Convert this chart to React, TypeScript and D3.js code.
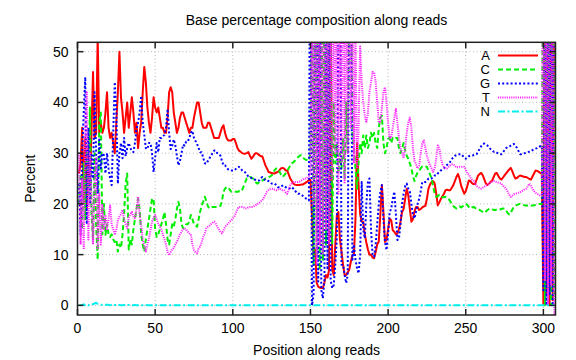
import React from "react";
import * as d3 from "d3";

const title = "Base percentage composition along reads";
const xLabel = "Position along reads";
const yLabel = "Percent";
const xTicks = [0, 50, 100, 150, 200, 250, 300];
const yTicks = [0, 10, 20, 30, 40, 50];
const bases = ["A", "C", "G", "T", "N"];

const valuesA = [
  26, 28, 35, 20, 33, 19, 31, 24, 34, 46,
  33, 34, 53, 34, 36, 34, 35, 38, 42, 35,
  33, 34, 32, 30, 36, 42, 50, 41, 38, 34,
  37, 40, 35, 38, 41, 38, 34, 36, 31, 34,
  36, 42, 47, 44, 39, 36, 34, 37, 41, 39,
  38, 39, 37, 35, 35, 34, 34, 37, 42, 43,
  42, 38, 36, 34, 35, 37, 38, 38, 37, 36,
  35, 34, 35, 35, 37, 38.5,
  40, 40, 38, 36, 35, 35, 35, 36, 36, 35,
  34, 33, 33, 33, 33, 34, 35, 35.5, 34, 33,
  32.5, 32.5, 32.5, 32.8, 32.8, 32, 31, 30.5, 30.3, 30,
  29.9, 29.9, 30, 30.2, 29.5, 28.9, 29.3, 29.8, 30, 29.9,
  29.6, 29.4, 29.4, 28.5, 27.6, 27, 26.3, 26.2, 26.1, 26,
  26, 26.2, 26.3, 26.6, 27, 27.1, 27, 26.6, 26.6, 25.8,
  25, 24.5, 24, 23.8, 23.7, 23.7, 23.7, 23.8, 23.8, 24,
  24.2, 24.4, 24.7, 24.7, 17.8, 10, 11, 4.5, 3.7, 3.5,
  3.4, 3.4, 4.5, 6, 5.5, 7, 65, 7, 6, 12,
  17.8, 18.4, 13, 10.6, 8, 6, 6, 6.5, 7, 8.6,
  9.9, 10, 17, 32, 23.7, 18, 16.5, 16.5, 14, 12.4,
  11, 10, 10, 9.4, 9.3, 10.5, 12, 12.6, 17.8, 23.7,
  18.4, 12.5, 12.9, 15, 17.1, 16.8, 14.8, 14.5, 14, 14.2,
  15, 16.5, 18.4, 19, 21, 23, 21.7, 19, 16.5, 17,
  18.5, 19.4, 19.4, 18.8, 19, 19.3, 19.5, 19.6, 21, 23, 23.8,
  24.3, 24.5, 24, 22, 19.7, 20.3, 21, 21.5, 22, 22.7,
  22.8, 22.7, 22.7, 23.2, 23.7, 24.5, 25.3, 25.9, 25, 23.6,
  22.8, 22, 22.5, 23.5, 24.6, 24.5, 24.1, 23.9, 23.9, 24.8,
  25.6, 25.9, 26.1, 25.6, 24.8, 24, 23.7, 24, 24.3, 24.6,
  25.3, 26, 26.1, 25.5, 25, 24.8, 25.2, 25.6, 26, 26.4,
  26.8, 27.1, 26.4, 25.6, 25, 25.1, 25.4, 25.6, 25.5, 25.4,
  25.3, 25.3, 25.1, 24.9, 24.8, 25.4, 26, 26.6, 26.5, 26.3, 26.1, 26,
  0, 90, 2, 80, 0, 95, 1, 70,
];

const valuesC = [
  20, 26, 15, 28, 17, 30, 22, 39, 18, 13,
  30, 16, 9, 36, 38, 14, 20, 13.9, 16, 14,
  13.5, 14, 13, 12.5, 13, 10.6, 12, 11.3, 14, 18,
  24, 26, 11, 13, 12, 15, 17, 19, 21, 19,
  14, 12, 10.6, 13, 15, 17, 19, 21, 21, 15,
  13.5, 14, 15, 16, 17, 18.4, 16, 13, 12, 14,
  16, 15.5, 17, 19, 20.4, 19, 16, 15.2, 15.5, 16,
  16, 16.5, 17.8, 17, 16, 15.8,
  15.5, 17, 18.5, 19.7, 20.5, 21.4, 20.5, 19.5, 19.1, 19.3,
  19.4, 19.4, 19.4, 19.4, 19.4, 19.6, 20.5, 22.4, 23, 23.3,
  23.3, 22.8, 22.4, 22.4, 22.4, 22.4, 22.4, 22.5, 22.4, 22.7,
  23.5, 24.3, 25, 25, 25.3, 25.2, 25, 24.5, 24.2, 24,
  24.3, 24.6, 24.6, 24.8, 25, 25, 25.2, 25.4, 25.6, 26,
  26.7, 27, 27, 26.4, 25.8, 25.3, 25.6, 26, 26.5, 27,
  27.6, 28, 28.2, 28.5, 28.8, 29.2, 29.5, 29.6, 29.2, 28.9,
  28.7, 28.6, 28.5, 30, 70, 8, 75, 10, 80, 7,
  85, 9, 70, 12, 65, 15, 55, 12, 40, 28,
  32, 26, 30, 27, 33, 25, 40, 30, 60, 70,
  34, 30.8, 27, 23, 28, 32, 30, 33.5, 31, 33.5,
  31, 32, 34, 33, 34, 32, 31, 35, 37, 37.4,
  32, 30, 31, 32.8, 33, 32, 33, 32.8, 33, 33,
  31, 30, 31, 32, 30.5, 29.5, 28.9, 28, 27, 25.5,
  24.5, 25.5, 26.2, 26.5, 27, 27.4, 27.5, 27.4, 27.3, 26.5, 25.8,
  25, 23.5, 22, 21.4, 21.5, 21.8, 21.6, 21.3, 21.3, 21.4,
  21.2, 21, 20.5, 20, 19.6, 19.3, 19.1, 19.3, 19.5, 19.3,
  19.5, 19.8, 20, 19.8, 19.4, 19.1, 19.3, 19.4, 19.2, 19,
  18.9, 18.8, 18.6, 18.4, 18.2, 18.5, 18.8, 19, 19.1, 19,
  18.8, 18.8, 18.9, 18.8, 18.9, 19, 19.1, 19.1, 18.7, 18.2,
  17.9, 18.3, 18.9, 19.4, 19.6, 19.8, 19.9, 20, 19.9, 19.8,
  19.7, 19.7, 19.7, 19.8, 19.7, 19.7, 19.7, 19.8, 19.9, 20, 20, 20,
  85, 0, 90, 3, 80, 0, 95, 2,
];

const valuesG = [
  24, 14, 30, 38, 45, 16, 35, 20, 30, 25,
  42, 30, 22, 33, 27, 30, 29.6, 26, 30, 27,
  25, 23.7, 34, 44, 38, 24, 30, 32, 29, 33,
  29.4, 31, 32, 31, 30.5, 30.2, 32, 34.8, 36, 38,
  41.3, 36, 33.6, 31, 30.8, 32, 32, 30, 26.3, 29,
  32, 30.2, 33, 33, 33.3, 33.6, 35, 38.7, 34, 30.8,
  31.5, 32.7, 31.5, 29.5, 27.6, 28.5, 30, 31.7, 31.5, 32.3,
  32.3, 33, 34, 34.4, 33, 32.4,
  31.8, 31, 30.2, 30.2, 29, 28, 27.9, 28.5, 29, 29.5,
  30, 30.5, 30.5, 30, 29.9, 29.5, 28.5, 27.6, 27.6, 27.2,
  26.8, 26.7, 26.6, 26.6, 26.6, 26.9, 27.2, 27.3, 27, 26.6,
  26.4, 26.2, 25.8, 25.4, 25.3, 25.1, 25, 24.8, 24.7, 24.6,
  24.6, 25, 25.3, 25, 24.6, 24.6, 24.5, 24.3, 24, 24,
  24, 23.7, 23.3, 23.3, 23.5, 23.6, 23.6, 23.3, 23.1, 23,
  23.1, 23.3, 23, 22.6, 22.3, 22, 22, 21.8, 21.6, 21.4,
  21.1, 20.9, 20.7, 90, 0, 2, 60, 80, 4.7, 70,
  3, 1.4, 5, 65, 7, 75, 5, 3.4, 4, 8,
  13.2, 60, 80, 8, 8, 6, 4.4, 6, 70, 80,
  9, 12, 9, 7.3, 6.3, 10, 24.3, 15, 13.2, 20,
  24.3, 25, 15, 10, 9.6, 12, 16, 20, 22.4, 23.7,
  17, 12.5, 10.9, 14, 18.4, 19, 21, 22.4, 18, 12.9,
  13.2, 16, 20, 22, 23.5, 24, 23, 22.4, 20, 17.8,
  17.1, 18.5, 20, 21, 22.5, 24.3, 24.3, 24.3, 24.5, 25, 25,
  25, 25.3, 25.6, 25.6, 26, 26.3, 26.6, 26.8, 27, 27.4,
  27.7, 27.9, 28.3, 28.8, 29.2, 29.5, 29.6, 29.7, 29.8, 29.8,
  29.5, 29.1, 28.9, 29.1, 29.4, 29.5, 29.5, 29.6, 29.7, 29.8,
  30.3, 30.9, 31.4, 31.8, 31.9, 31.7, 31.5, 31.1, 30.8, 30.5,
  30.3, 30.3, 30.1, 29.9, 29.8, 29.8, 30.2, 30.6, 31, 31.2,
  31.3, 31.5, 31.7, 31.8, 31.5, 31, 30.4, 29.8, 29.8, 29.9,
  30, 30.1, 30.2, 30.3, 30.4, 30.6, 30.8, 30.9, 31, 31.2, 31.4, 31.5,
  3, 85, 0, 90, 2, 75, 0, 88,
];

const valuesT = [
  30, 12, 25, 11, 35, 42, 13, 30, 20, 12,
  24, 29, 11, 22, 12, 20, 15, 17.8, 15, 17,
  19.7, 16, 15, 13.9, 15, 16.7, 17.5, 18, 18.8, 17,
  16, 15.2, 17.4, 18, 18.4, 17.5, 17, 19, 21.4, 18,
  15.8, 13, 11.6, 10.6, 12, 13.2, 14.8, 16.5, 17.2, 17.8,
  17, 16.1, 15.5, 15, 14, 13, 12, 10.5, 9.9, 10.5,
  11, 11.3, 12, 12.5, 13.2, 14, 14.5, 15, 15.2, 15,
  14.5, 14.2, 14, 12, 10.9, 10.5,
  10.3, 11.2, 11.6, 12.5, 13.5, 14.2, 15.2, 15.5, 15.7, 16,
  16.3, 16.5, 16.1, 15.5, 15, 14.5, 14.2, 14.8, 15.5, 15.8,
  16.1, 16.5, 16.8, 17.1, 17.5, 18.2, 19, 19.4, 19.4, 19.4,
  19.3, 19.1, 19.1, 19.3, 19.4, 19.4, 19.4, 19.6, 19.8, 20,
  20.2, 20.5, 20.7, 21.2, 21.8, 22.4, 22.7, 22.9, 23, 23,
  22.8, 22.7, 22.8, 23, 22.9, 22.7, 22.7, 22.3, 22, 22.8,
  23.7, 24, 24.3, 24.3, 24.3, 24.3, 24.4, 24.6, 24.8, 25,
  25, 25.2, 25.5, 26, 60, 20, 70, 8, 85, 12,
  90, 10, 75, 15, 80, 12, 60, 25, 70, 30,
  75, 22, 65, 28, 80, 24, 70, 30, 85, 35,
  70, 28, 55, 27, 35, 51, 44, 40, 37.4, 36,
  38, 42, 44, 46, 45.9, 44, 40, 36, 36, 39,
  42, 43, 40, 36, 33, 33, 35, 37, 38.7, 36,
  33, 31, 30, 29, 31, 34, 36, 37, 35, 31,
  28.5, 27.8, 27, 27.5, 30, 32, 32.5, 31, 29.5, 28.5, 27.6,
  27, 26.3, 27, 29, 31.5, 31, 29, 27.8, 27.2, 27,
  27, 27.3, 27.6, 27.8, 27.8, 27.5, 27.2, 27.2, 27.3, 27.3,
  27.3, 27.3, 26.8, 26, 25.8, 25.2, 24.8, 24.6, 24, 23.5,
  23.3, 23.1, 23, 23.2, 23.4, 23.6, 23.8, 24, 24.3, 24.4,
  24.5, 24.4, 24.3, 24.2, 24.1, 24, 23.6, 23.3, 23, 22.4,
  21.8, 21.4, 21.6, 21.9, 22, 22.1, 22.2, 22.3, 22.5, 22.7,
  22.9, 23, 23.5, 24, 23.6, 23, 22.5, 22.2, 22, 21.8, 21.6, 21.6,
  90, 5, 85, 0, 95, 4, 80, -3,
];

const valuesN = [
  0.1, 0, 0.1, 0.2, 0, 0.1, 0, 0.2, 0.3, 0.2,
  0.4, 0.5, 0.3, 0.2, 0.1, 0.1, 0.2, 0.1, 0.1, 0.1,
  0, 0.1, 0, 0.1, 0, 0, 0.1, 0, 0, 0.1,
  0, 0, 0.1, 0, 0, 0, 0.1, 0, 0, 0,
  0, 0, 0, 0.1, 0, 0, 0, 0, 0, 0,
  0, 0, 0, 0, 0, 0, 0, 0, 0, 0,
  0, 0, 0, 0, 0, 0, 0, 0, 0, 0,
  0, 0, 0, 0, 0, 0,
  0, 0, 0, 0, 0, 0, 0, 0, 0, 0,
  0, 0, 0, 0, 0, 0, 0, 0, 0, 0,
  0.1, 0.1, 0, 0, 0, 0, 0, 0, 0, 0,
  0, 0, 0, 0, 0, 0, 0, 0, 0, 0,
  0, 0, 0, 0, 0, 0, 0, 0, 0, 0,
  0, 0, 0, 0, 0, 0, 0, 0, 0, 0,
  0, 0, 0, 0, 0, 0, 0, 0, 0, 0,
  0, 0, 0, 0, 0.1, 0, 0, 0, 0, 0,
  0, 0, 0, 0, 0, 0, 0, 0, 0, 0,
  0, 0, 0, 0, 0, 0, 0, 0, 0, 0,
  0, 0, 0, 0, 0, 0, 0, 0, 0, 0,
  0, 0, 0, 0, 0, 0, 0, 0, 0, 0,
  0, 0, 0, 0, 0, 0, 0, 0, 0, 0,
  0, 0, 0, 0, 0, 0, 0, 0, 0, 0,
  0, 0, 0, 0, 0, 0, 0, 0, 0, 0, 0,
  0, 0, 0, 0, 0, 0, 0, 0, 0, 0,
  0, 0, 0, 0, 0, 0, 0, 0, 0, 0,
  0, 0, 0, 0, 0, 0, 0, 0, 0, 0,
  0, 0, 0, 0, 0, 0, 0, 0, 0, 0,
  0, 0, 0, 0, 0, 0, 0, 0, 0, 0,
  0, 0, 0, 0, 0, 0, 0, 0, 0, 0,
  0, 0, 0, 0, 0, 0, 0, 0, 0, 0, 0, 0,
  0, 0, 0, 0, 0, 0, 0, 0,
];

const seriesValues = [valuesA, valuesC, valuesG, valuesT, valuesN];
const colors = ["#ff0000", "#00ee00", "#0000ff", "#ff22ff", "#00eeee"];
const dashes = ["none", "5,3", "2,2.2", "1.1,1.1", "7,2.5,2,2.5"];
const widths = [2, 2, 2, 2, 2];

const FONT = "'Liberation Sans', Arial, Helvetica, sans-serif";

export default function App() {
  const left = 77.5, right = 555.5, top = 42.3, bottom = 315;
  const x = d3.scaleLinear().domain([0, 307.8]).range([left, right]);
  const y = d3.scaleLinear().domain([-1.9, 51.85]).range([bottom, top]);
  const tick = 6;

  const paths = seriesValues.map((vals) => {
    const line = d3
      .line<number>()
      .x((_, i) => x(i + 1))
      .y((v) => y(v));
    return line(vals) || "";
  });

  return (
    <svg
      width={576}
      height={360}
      style={{ position: "absolute", left: 0, top: 0, background: "#fff" }}
      fontFamily={FONT}
      fontSize={14}
    >
      <defs>
        <clipPath id="plotclip">
          <rect x={left} y={top} width={right - left} height={bottom - top} />
        </clipPath>
      </defs>
      <rect x={0} y={0} width={576} height={360} fill="#fff" />
      {/* grid */}
      <g stroke="#b8b8b8" strokeWidth={1} strokeDasharray="1,2.5">
        {xTicks.map((t) => (
          <line key={"gx" + t} x1={x(t)} x2={x(t)} y1={bottom} y2={top} />
        ))}
        {yTicks.map((t) => (
          <line key={"gy" + t} x1={left} x2={right} y1={y(t)} y2={y(t)} />
        ))}
      </g>
      {/* data */}
      <g clipPath="url(#plotclip)" fill="none">
        {paths.map((d, i) => (
          <path
            key={bases[i]}
            d={d}
            stroke={colors[i]}
            strokeWidth={widths[i]}
            strokeDasharray={dashes[i]}
            strokeLinejoin="round"
          />
        ))}
      </g>
      {/* border and ticks */}
      <g stroke="#222" strokeWidth={1.5} fill="none">
        <rect x={left} y={top} width={right - left} height={bottom - top} />
        {xTicks.map((t) => (
          <g key={"tx" + t}>
            <line x1={x(t)} x2={x(t)} y1={bottom} y2={bottom - tick} />
            <line x1={x(t)} x2={x(t)} y1={top} y2={top + tick} />
          </g>
        ))}
        {yTicks.map((t) => (
          <g key={"ty" + t}>
            <line x1={left} x2={left + tick} y1={y(t)} y2={y(t)} />
            <line x1={right} x2={right - tick} y1={y(t)} y2={y(t)} />
          </g>
        ))}
      </g>
      {/* tick labels */}
      <g fill="#000">
        {xTicks.map((t) => (
          <text key={"lx" + t} x={x(t)} y={333} textAnchor="middle">
            {t}
          </text>
        ))}
        {yTicks.map((t) => (
          <text key={"ly" + t} x={left - 9} y={y(t) + 5} textAnchor="end">
            {t}
          </text>
        ))}
      </g>
      {/* titles */}
      <text x={(left + right) / 2} y={25} textAnchor="middle" fill="#000">
        {title}
      </text>
      <text x={(left + right) / 2} y={355} textAnchor="middle" fill="#000">
        {xLabel}
      </text>
      <text
        transform={`translate(35,${(top + bottom) / 2}) rotate(-90)`}
        textAnchor="middle"
        fill="#000"
      >
        {yLabel}
      </text>
      {/* legend */}
      <g fontSize={13}>
        {bases.map((b, i) => {
          const yb = 60 + i * 14;
          return (
            <g key={"lg" + b}>
              <text x={490} y={yb} textAnchor="end" fill="#000">
                {b}
              </text>
              <line
                x1={498}
                x2={538}
                y1={yb - 4.5}
                y2={yb - 4.5}
                stroke={colors[i]}
                strokeWidth={widths[i]}
                strokeDasharray={dashes[i]}
              />
            </g>
          );
        })}
      </g>
    </svg>
  );
}
